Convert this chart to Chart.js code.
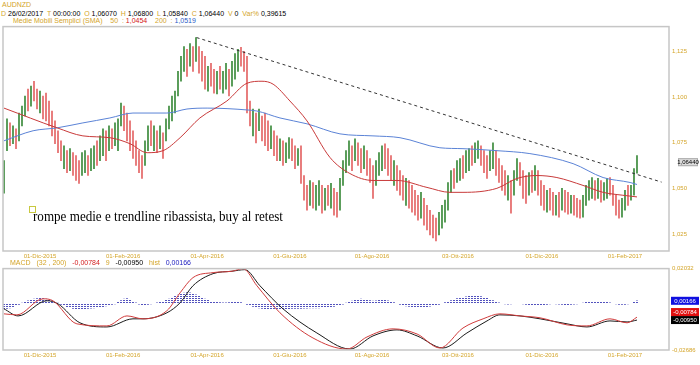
<!DOCTYPE html>
<html>
<head>
<meta charset="utf-8">
<script src="https://cdn.jsdelivr.net/npm/chart.js@4.4.1/dist/chart.umd.min.js"></script>
<style>
  body { margin: 0; background: #fff; width: 700px; height: 365px; overflow: hidden; position: relative;
         font-family: "Liberation Sans Narrow", "Liberation Sans", Arial, sans-serif; }
  .hdr { position: absolute; font-size: 7px; line-height: 7px; white-space: nowrap; color: #d4a52a; }
  .k { color: #000; }
  .r { color: #d42020; }
  .b { color: #2a5cc8; }
  #main { position: absolute; left: 0; top: 20px; }
  #macd { position: absolute; left: 0; top: 262px; }
  #note { position: absolute; left: 33px; top: 209px; font: 15px "Liberation Serif", "Times New Roman", serif;
          line-height: 15px; color: #000; transform-origin: 0 0; white-space: nowrap; }
  #noteBox { position: absolute; left: 29px; top: 206px; width: 5px; height: 5px; border: 1px solid #c8c840; }
</style>
</head>
<body>
<div class="hdr" style="left:2px;top:1px">AUDNZD</div>
<div class="hdr" style="left:1px;top:10px">D <span class="k">26/02/2017</span> &nbsp;T <span class="k">00:00:00</span> &nbsp;O <span class="k">1,06070</span> &nbsp;H <span class="k">1,06800</span> &nbsp;L <span class="k">1,05840</span> &nbsp;C <span class="k">1,06440</span> &nbsp;V <span class="k">0</span> &nbsp;Var% <span class="k">0,39615</span></div>
<div class="hdr" style="left:13px;top:17px">Medie Mobili Semplici (SMA) &nbsp;&nbsp; 50 &nbsp;: <span class="r">1,0454</span> &nbsp;&nbsp; 200 &nbsp;: <span class="b">1,0519</span></div>

<canvas id="main" width="700" height="245"></canvas>
<canvas id="macd" width="700" height="103"></canvas>

<div id="noteBox"></div>
<div id="note">rompe medie e trendline ribassista, buy al retest</div>
<div class="hdr" style="left:10px;top:259px">MACD &nbsp;&nbsp;(32 , 200) &nbsp;&nbsp;<span class="r">-0,00784</span> &nbsp;&nbsp;9 &nbsp;&nbsp;<span class="k">-0,00950</span> &nbsp;&nbsp;hist &nbsp;&nbsp;<span style="color:#2020c0">0,00166</span></div>

<script>
// daily bars, one every trading day index
const highs = [
  1.0653, 1.0881, 1.0859, 1.0843, 1.0826, 1.0913, 1.0951, 1.1006, 1.1044, 1.1060,
  1.1087, 1.1044, 1.1033, 1.1006, 1.1022, 1.0979, 1.0924, 1.0870, 1.0816, 1.0761,
  1.0734, 1.0707, 1.0718, 1.0696, 1.0680, 1.0653, 1.0696, 1.0707, 1.0680, 1.0718,
  1.0734, 1.0761, 1.0788, 1.0826, 1.0816, 1.0843, 1.0826, 1.0859, 1.0881, 1.0968,
  1.0951, 1.0913, 1.0870, 1.0816, 1.0761, 1.0707, 1.0680, 1.0761, 1.0843, 1.0870,
  1.0843, 1.0816, 1.0843, 1.0805, 1.0881, 1.0951, 1.1006, 1.1033, 1.1141, 1.1223,
  1.1277, 1.1261, 1.1293, 1.1277, 1.1326, 1.1277, 1.1250, 1.1223, 1.1169, 1.1185,
  1.1152, 1.1141, 1.1169, 1.1141, 1.1185, 1.1152, 1.1196, 1.1239, 1.1261, 1.1272,
  1.1250, 1.1223, 1.0979, 1.0935, 1.0913, 1.0935, 1.0897, 1.0913, 1.0870, 1.0843,
  1.0816, 1.0788, 1.0772, 1.0761, 1.0750, 1.0778, 1.0772, 1.0734, 1.0718, 1.0734,
  1.0571, 1.0517, 1.0544, 1.0533, 1.0517, 1.0544, 1.0517, 1.0501, 1.0517, 1.0528,
  1.0501, 1.0479, 1.0555, 1.0653, 1.0707, 1.0761, 1.0734, 1.0772, 1.0750, 1.0718,
  1.0734, 1.0707, 1.0664, 1.0626, 1.0653, 1.0696, 1.0734, 1.0745, 1.0718, 1.0680,
  1.0653, 1.0626, 1.0598, 1.0571, 1.0555, 1.0544, 1.0517, 1.0490, 1.0463, 1.0479,
  1.0446, 1.0408, 1.0381, 1.0354, 1.0338, 1.0370, 1.0408, 1.0436, 1.0533, 1.0598,
  1.0609, 1.0653, 1.0664, 1.0680, 1.0707, 1.0718, 1.0734, 1.0750, 1.0761, 1.0734,
  1.0707, 1.0680, 1.0707, 1.0750, 1.0707, 1.0664, 1.0626, 1.0598, 1.0571, 1.0544,
  1.0598, 1.0664, 1.0642, 1.0598, 1.0571, 1.0587, 1.0598, 1.0626, 1.0598, 1.0544,
  1.0517, 1.0490, 1.0501, 1.0479, 1.0463, 1.0479, 1.0501, 1.0490, 1.0479, 1.0463,
  1.0463, 1.0446, 1.0436, 1.0463, 1.0517, 1.0544, 1.0560, 1.0544, 1.0555, 1.0544,
  1.0533, 1.0555, 1.0560, 1.0517, 1.0463, 1.0436, 1.0446, 1.0490, 1.0517, 1.0517,
  1.0609, 1.0680
];
const lows = [
  1.0474, 1.0707, 1.0734, 1.0745, 1.0718, 1.0761, 1.0843, 1.0897, 1.0924, 1.0951,
  1.0979, 1.0935, 1.0913, 1.0881, 1.0870, 1.0843, 1.0788, 1.0745, 1.0696, 1.0653,
  1.0609, 1.0587, 1.0598, 1.0571, 1.0544, 1.0528, 1.0571, 1.0587, 1.0571, 1.0598,
  1.0609, 1.0626, 1.0653, 1.0680, 1.0653, 1.0707, 1.0718, 1.0734, 1.0707, 1.0843,
  1.0816, 1.0761, 1.0707, 1.0664, 1.0626, 1.0587, 1.0555, 1.0626, 1.0707, 1.0734,
  1.0707, 1.0696, 1.0718, 1.0664, 1.0761, 1.0826, 1.0870, 1.0913, 1.1006, 1.1087,
  1.1141, 1.1114, 1.1169, 1.1141, 1.1196, 1.1131, 1.1087, 1.1044, 1.1033, 1.1060,
  1.1022, 1.1017, 1.1044, 1.1022, 1.1044, 1.1006, 1.1060, 1.1098, 1.1141, 1.1169,
  1.1141, 1.0913, 1.0843, 1.0788, 1.0750, 1.0816, 1.0761, 1.0734, 1.0707, 1.0718,
  1.0680, 1.0653, 1.0653, 1.0626, 1.0642, 1.0664, 1.0653, 1.0609, 1.0626, 1.0528,
  1.0436, 1.0381, 1.0408, 1.0392, 1.0381, 1.0408, 1.0365, 1.0381, 1.0408, 1.0392,
  1.0354, 1.0343, 1.0381, 1.0517, 1.0587, 1.0626, 1.0598, 1.0653, 1.0626, 1.0587,
  1.0609, 1.0571, 1.0533, 1.0446, 1.0517, 1.0571, 1.0598, 1.0609, 1.0571, 1.0544,
  1.0517, 1.0490, 1.0463, 1.0436, 1.0408, 1.0392, 1.0370, 1.0354, 1.0327, 1.0338,
  1.0300, 1.0273, 1.0246, 1.0229, 1.0213, 1.0246, 1.0283, 1.0316, 1.0381, 1.0479,
  1.0501, 1.0533, 1.0544, 1.0555, 1.0587, 1.0598, 1.0626, 1.0642, 1.0664, 1.0626,
  1.0587, 1.0555, 1.0598, 1.0609, 1.0571, 1.0533, 1.0490, 1.0463, 1.0436, 1.0365,
  1.0463, 1.0544, 1.0517, 1.0446, 1.0419, 1.0463, 1.0479, 1.0490, 1.0463, 1.0408,
  1.0381, 1.0370, 1.0381, 1.0354, 1.0354, 1.0343, 1.0381, 1.0370, 1.0359, 1.0365,
  1.0354, 1.0343, 1.0338, 1.0343, 1.0408, 1.0436, 1.0446, 1.0436, 1.0446, 1.0425,
  1.0436, 1.0446, 1.0463, 1.0408, 1.0354, 1.0338, 1.0343, 1.0381, 1.0408, 1.0436,
  1.0463, 1.0584
];
// u = close above open (green), d = close below open (red)
const dirs = ('uududuuudu' + 'dduddddddd' + 'ududdduudu' + 'uduududuuu' + 'ddddddduud' +
              'ududuuuuuu' + 'udududddud' + 'duduuduuud' + 'dddududddu' + 'dduduuddud' +
              'dduduududu' + 'dduuuududd' + 'uddduuuddd' + 'uddduddddu' + 'ddddduuuuu' +
              'duuduuduud' + 'dduuddddud' + 'uudddududd' + 'duddududdu' + 'ddduuuudud' +
              'uudddduudu' + 'uu').split('');

const sma50X = [0, 17.7, 26.3, 35.3, 42, 47.7, 53, 58.7, 65.3, 74.3, 81, 86, 89.7, 95.3, 101, 108.7,
                115.3, 123, 131, 141, 148.7, 153, 164.3, 171, 177.7, 184.3, 193, 199.7, 206.3, 211];
const sma50 = [1.0940, 1.0832, 1.0788, 1.0778, 1.0745, 1.0696, 1.0707, 1.0778, 1.0886, 1.0979, 1.1076,
               1.1087, 1.1071, 1.0979, 1.0870, 1.0669, 1.0582, 1.0544, 1.0544, 1.0506, 1.0479, 1.0479,
               1.0501, 1.0555, 1.0571, 1.0560, 1.0517, 1.0479, 1.0463, 1.0454];
const sma200X = [0, 9.7, 17.7, 26.3, 35.3, 43, 54.3, 61, 67.7, 81, 84.3, 92, 101, 112, 123, 132,
                 145.3, 153, 164.3, 175.3, 189.7, 199.7, 208.7, 211];
const sma200 = [1.0761, 1.0816, 1.0832, 1.0859, 1.0886, 1.0913, 1.0913, 1.0935, 1.0940, 1.0930, 1.0924,
                1.0886, 1.0854, 1.0799, 1.0788, 1.0778, 1.0723, 1.0718, 1.0707, 1.0691, 1.0636, 1.0560,
                1.0533, 1.0522];
const trendX = [64.2, 219.2];
const trendY = [1.1326, 1.0535];

const macdX = [0, 4.3, 13, 16.3, 24.3, 34.3, 41, 46.3, 54.3, 58.7, 63, 69.7, 76, 79.7, 84.3, 92, 103,
               114.3, 121, 129.7, 137.7, 145.3, 153, 159.7, 165.3, 172, 178.7, 187.7, 194.3, 202, 207.7, 211];
const macdLine = [-0.0059, -0.0065, 0.0028, 0.0017, -0.0117, -0.0129, -0.0071, -0.0088, -0.0041, 0.0063,
                  0.0151, 0.0180, 0.0188, 0.0203, 0.0104, -0.0053, -0.0199, -0.0263, -0.0193, -0.0146,
                  -0.0176, -0.0257, -0.0141, -0.0088, -0.0059, -0.0071, -0.0082, -0.0123, -0.0129,
                  -0.0088, -0.0111, -0.0078];
const signalX = [0, 4.7, 14.3, 18, 25.3, 34.3, 43, 46.3, 54.3, 58.7, 63, 69.7, 76, 80.3, 85.3, 93, 104.3,
                 115.3, 123, 131, 137.7, 146.3, 154.3, 161, 165.3, 172, 178.7, 187.7, 194.3, 202, 207.7, 211];
const signalLine = [-0.0030, -0.0071, 0.0017, -0.0001, -0.0111, -0.0135, -0.0088, -0.0088, -0.0053, 0.0005,
                    0.0104, 0.0174, 0.0188, 0.0197, 0.0104, -0.0030, -0.0170, -0.0263, -0.0187, -0.0152,
                    -0.0187, -0.0257, -0.0170, -0.0100, -0.0065, -0.0071, -0.0088, -0.0117, -0.0135,
                    -0.0100, -0.0106, -0.0095];
const hist = [
  -0.0030, -0.0028, -0.0024, -0.0018, -0.0012, -0.0005,
  0.0003, 0.0010, 0.0016, 0.0021, 0.0026, 0.0029, 0.0031, 0.0030, 0.0027, 0.0022, 0.0016, 0.0010, 0.0003,
  -0.0005, -0.0012, -0.0018, -0.0023, -0.0027, -0.0030, -0.0031, -0.0031, -0.0030, -0.0028, -0.0026,
  -0.0024, -0.0022, -0.0020, -0.0017, -0.0013, -0.0009, -0.0005, -0.0001,
  0.0008, 0.0018, 0.0026, 0.0029, 0.0024, 0.0014, 0.0005,
  -0.0003, -0.0006, -0.0006, -0.0004, -0.0002, 0.0002, 0.0005, 0.0009,
  0.0014, 0.0020, 0.0027, 0.0035, 0.0043, 0.0050, 0.0056, 0.0062, 0.0064, 0.0063, 0.0058, 0.0051, 0.0043,
  0.0035, 0.0027, 0.0020, 0.0014, 0.0010,
  0.0008, 0.0006, 0.0005, 0.0005, 0.0006, 0.0008, 0.0010, 0.0009, 0.0006, 0.0002,
  -0.0004, -0.0010, -0.0016, -0.0021, -0.0025, -0.0028, -0.0030, -0.0031, -0.0032, -0.0032, -0.0031,
  -0.0030, -0.0030, -0.0029, -0.0029, -0.0028, -0.0028, -0.0027, -0.0027, -0.0026, -0.0026, -0.0025,
  -0.0025, -0.0024, -0.0024, -0.0023, -0.0022, -0.0021, -0.0019, -0.0016, -0.0012, -0.0008, -0.0003,
  0.0003, 0.0009, 0.0015, 0.0020, 0.0024, 0.0026, 0.0025, 0.0022, 0.0018, 0.0015, 0.0016, 0.0019, 0.0021,
  0.0020, 0.0016, 0.0011, 0.0006, 0.0001,
  -0.0004, -0.0009, -0.0013, -0.0016, -0.0018, -0.0019, -0.0019, -0.0019, -0.0018, -0.0017, -0.0015,
  -0.0012, -0.0008, -0.0004, 0.0000,
  0.0006, 0.0012, 0.0018, 0.0024, 0.0029, 0.0033, 0.0036, 0.0039, 0.0042, 0.0044, 0.0045, 0.0044, 0.0041,
  0.0037, 0.0031, 0.0025, 0.0018, 0.0011, 0.0005,
  0.0001, -0.0002, -0.0003, -0.0002, 0.0000, 0.0002, 0.0001, -0.0002, -0.0004, -0.0006, -0.0008, -0.0009,
  -0.0009, -0.0008, -0.0006, -0.0004, -0.0002, 0.0000, -0.0001, -0.0003, -0.0005, -0.0006, -0.0006,
  -0.0005, -0.0003, -0.0001, 0.0001,
  0.0004, 0.0008, 0.0011, 0.0013, 0.0014, 0.0014, 0.0013, 0.0011, 0.0008, 0.0005, 0.0002,
  -0.0002, -0.0004, -0.0005, -0.0004, -0.0002, 0.0002, 0.0009, 0.0017
];

const tickPos = [12, 39.7, 67.7, 95.3, 122.7, 151.3, 179.3, 207];
const tickLabels = ['01-Dic-2015', '01-Feb-2016', '01-Apr-2016', '01-Giu-2016',
                    '01-Ago-2016', '03-Ott-2016', '01-Dic-2016', '01-Feb-2017'];
const priceTicks = [1.025, 1.05, 1.075, 1.1, 1.125];
const macdTicks = [0.02032, -0.02686];
const lastClose = 1.0644, lastHist = 0.00166, lastMacd = -0.00784, lastSignal = -0.0095;

const gold = '#d4a52a';
const smallFont = { family: '"Liberation Sans Narrow", "Liberation Sans", Arial, sans-serif', size: 6 };
const comma = (v, d) => v.toFixed(d).replace('.', ',');

// grey frame round the plot area
const frame = {
  id: 'frame',
  afterDraw(chart) {
    const { ctx, chartArea: a } = chart;
    ctx.save();
    ctx.strokeStyle = '#c6c6c6';
    ctx.lineWidth = 1.5;
    ctx.strokeRect(a.left, a.top, a.right - a.left, a.bottom - a.top);
    ctx.restore();
  }
};

// value tags on the right axis, pushed apart when they overlap
const tags = {
  id: 'tags',
  afterDraw(chart, args, opts) {
    if (!opts.items) return;
    const ctx = chart.ctx, ys = chart.scales.y, h = 8;
    const items = opts.items.map(t => ({ ...t, py: ys.getPixelForValue(t.value) }))
      .sort((a, b) => b.py - a.py);
    let top = null;
    ctx.save();
    ctx.font = '6px ' + smallFont.family;
    ctx.textBaseline = 'middle';
    ctx.textAlign = 'center';
    items.forEach(t => {
      let py = t.py;
      if (top !== null && py + h / 2 > top) py = top - h / 2;
      top = py - h / 2;
      ctx.fillStyle = t.bg;
      ctx.fillRect(t.x, py - h / 2, t.w, h);
      if (t.border) {
        ctx.strokeStyle = t.border;
        ctx.lineWidth = 1;
        ctx.strokeRect(t.x + 0.5, py - h / 2 + 0.5, t.w - 1, h - 1);
      }
      ctx.fillStyle = t.fg;
      ctx.fillText(t.text, t.x + t.w / 2, py + 0.5);
    });
    ctx.restore();
  }
};

function xScale(height) {
  return {
    type: 'linear', min: -1 / 3, max: 221.67, offset: false,
    afterBuildTicks: s => { s.ticks = tickPos.map(v => ({ value: v })); },
    afterFit: s => { s.height = height; },
    ticks: {
      callback: v => tickLabels[tickPos.indexOf(v)],
      color: gold, font: smallFont, maxRotation: 0, autoSkip: false, padding: 2
    },
    grid: { display: false, drawTicks: false, offset: false },
    border: { display: false }
  };
}

function yScale(min, max, ticks, fmt) {
  return {
    position: 'right', min: min, max: max,
    afterBuildTicks: s => { s.ticks = ticks.map(v => ({ value: v })); },
    afterFit: s => { s.width = 31; },
    ticks: { callback: fmt, color: gold, font: smallFont, padding: 3 },
    grid: { display: false, drawTicks: false },
    border: { display: false }
  };
}

const pts = (xs, ys) => xs.map((x, i) => ({ x: x, y: ys[i] }));

new Chart(document.getElementById('main'), {
  type: 'bar',
  data: {
    datasets: [
      {
        type: 'bar',
        data: highs.map((h, i) => ({ x: i, y: [lows[i], h] })),
        backgroundColor: dirs.map(d => d === 'u' ? '#3a8a3a' : '#e46464'),
        barThickness: 1, grouped: false, order: 3
      },
      {
        type: 'line', data: pts(sma200X, sma200), borderColor: '#5b83d6', borderWidth: 1,
        pointRadius: 0, cubicInterpolationMode: 'monotone', order: 2
      },
      {
        type: 'line', data: pts(sma50X, sma50), borderColor: '#c83a3a', borderWidth: 1,
        pointRadius: 0, cubicInterpolationMode: 'monotone', order: 1
      },
      {
        type: 'line', data: pts(trendX, trendY), borderColor: '#333', borderWidth: 1,
        borderDash: [3, 3], pointRadius: 0, order: 0
      }
    ]
  },
  options: {
    responsive: false, animation: false, devicePixelRatio: 1,
    layout: { padding: { left: 3, top: 5, right: 0, bottom: 0 } },
    plugins: {
      legend: { display: false }, tooltip: { enabled: false },
      tags: { items: [{ value: lastClose, text: comma(lastClose, 5), bg: '#dcdcdc', fg: '#000', border: '#aaa', x: 678, w: 20 }] }
    },
    scales: {
      x: xScale(14),
      y: yScale(1.0158, 1.1386, priceTicks, v => comma(v, 3))
    }
  },
  plugins: [frame, tags]
});

function histPattern() {
  const c = document.createElement('canvas');
  c.width = 1; c.height = 2;
  const g = c.getContext('2d');
  g.fillStyle = '#3030b0';
  g.fillRect(0, 0, 1, 1);
  return g.createPattern(c, 'repeat');
}

new Chart(document.getElementById('macd'), {
  type: 'bar',
  data: {
    datasets: [
      {
        type: 'bar', data: hist.map((v, i) => ({ x: i, y: v })), backgroundColor: histPattern(),
        barThickness: 1, grouped: false, order: 3
      },
      {
        type: 'line', data: pts(signalX, signalLine), borderColor: '#1a1a1a', borderWidth: 1,
        pointRadius: 0, cubicInterpolationMode: 'monotone', order: 2
      },
      {
        type: 'line', data: pts(macdX, macdLine), borderColor: '#d03c3c', borderWidth: 1,
        pointRadius: 0, cubicInterpolationMode: 'monotone', order: 1
      }
    ]
  },
  options: {
    responsive: false, animation: false, devicePixelRatio: 1,
    layout: { padding: { left: 3, top: 6, right: 0, bottom: 0 } },
    plugins: {
      legend: { display: false }, tooltip: { enabled: false },
      tags: {
        items: [
          { value: lastSignal, text: comma(lastSignal, 5), bg: '#000', fg: '#fff', x: 671, w: 28 },
          { value: lastMacd, text: comma(lastMacd, 5), bg: '#e01010', fg: '#fff', x: 671, w: 28 },
          { value: lastHist, text: comma(lastHist, 5), bg: '#1010e0', fg: '#fff', x: 671, w: 28 }
        ]
      }
    },
    scales: {
      x: xScale(15),
      y: yScale(-0.02686, 0.02032, macdTicks, v => comma(v, 5))
    }
  },
  plugins: [frame, tags]
});

// squeeze the note to the width it has in the picture
const note = document.getElementById('note');
const fit = () => { note.style.transform = 'scaleX(' + (250 / note.getBoundingClientRect().width) + ')'; };
fit();
</script>
</body>
</html>
